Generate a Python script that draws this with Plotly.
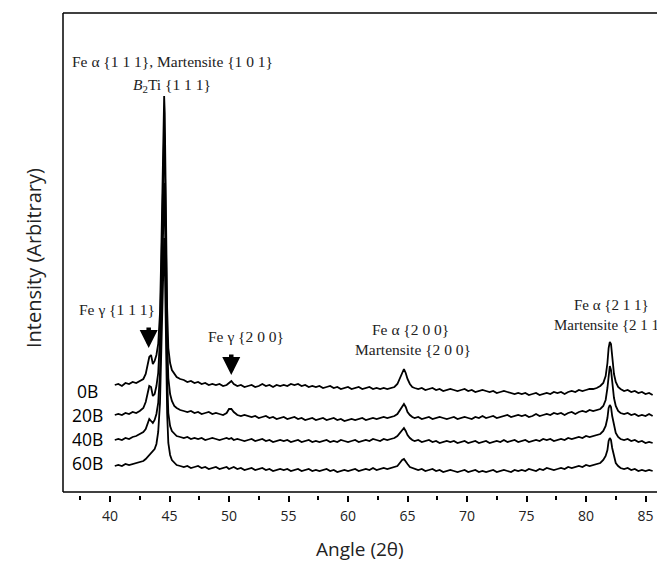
import plotly.graph_objects as go

# 2-theta sampling positions (degrees)
angle = [
    40.4, 40.7, 41.0, 41.3, 41.6, 41.9, 42.2, 42.5, 42.8, 43.0,
    43.15, 43.3, 43.45, 43.6, 43.75, 43.9, 44.05, 44.2, 44.3, 44.4,
    44.5, 44.55, 44.6, 44.7, 44.8, 44.9, 45.05, 45.2, 45.4, 45.6,
    45.9, 46.2, 46.5, 46.8, 47.1, 47.4, 47.7, 48.0, 48.3, 48.6,
    48.9, 49.2, 49.5, 49.8, 50.0, 50.2, 50.4, 50.7, 51.0, 51.3,
    51.6, 51.9, 52.2, 52.5, 52.8, 53.1, 53.4, 53.7, 54.0, 54.3,
    54.6, 54.9, 55.2, 55.5, 55.8, 56.1, 56.4, 56.7, 57.0, 57.3,
    57.6, 57.9, 58.2, 58.5, 58.8, 59.1, 59.4, 59.7, 60.0, 60.3,
    60.6, 60.9, 61.2, 61.5, 61.8, 62.1, 62.4, 62.7, 63.0, 63.3,
    63.6, 63.9, 64.15, 64.35, 64.55, 64.7, 64.85, 65.0, 65.2, 65.4,
    65.6, 65.9, 66.2, 66.5, 66.8, 67.1, 67.4, 67.7, 68.0, 68.3,
    68.6, 68.9, 69.2, 69.5, 69.8, 70.1, 70.4, 70.7, 71.0, 71.3,
    71.6, 71.9, 72.2, 72.5, 72.8, 73.1, 73.4, 73.7, 74.0, 74.3,
    74.6, 74.9, 75.2, 75.5, 75.8, 76.1, 76.4, 76.7, 77.0, 77.3,
    77.6, 77.9, 78.2, 78.5, 78.8, 79.1, 79.4, 79.7, 80.0, 80.3,
    80.6, 80.9, 81.2, 81.45, 81.65, 81.8, 81.9, 82.0, 82.1, 82.2,
    82.35, 82.5, 82.7, 82.9, 83.2, 83.5, 83.8, 84.1, 84.4, 84.7,
    85.0, 85.3, 85.6,
]

# Stacked intensities (arbitrary units)
int_0B = [
    107, 108, 106, 109, 108, 110, 109, 111, 113, 118,
    126, 135, 137, 128, 131, 137, 148, 179, 234, 314,
    384, 396, 379, 269, 184, 144, 129, 122, 118, 115,
    113, 112, 110, 111, 109, 110, 108, 109, 107, 108,
    107, 108, 106, 107, 109, 111, 108, 106, 107, 105,
    106, 107, 105, 106, 108, 106, 107, 105, 107, 106,
    107, 106, 108, 107, 108, 106, 107, 105, 106, 105,
    106, 104, 105, 106, 104, 105, 103, 104, 105, 103,
    104, 105, 103, 104, 105, 103, 104, 103, 104, 103,
    104, 105, 108, 114, 120, 123, 119, 113, 108, 105,
    104, 103, 104, 102, 103, 104, 102, 103, 101, 102,
    103, 102, 101, 102, 103, 101, 102, 100, 101, 102,
    101, 100, 101, 99, 100, 101, 100, 99, 98, 99,
    98, 99, 97, 98, 99, 97, 98, 99, 98, 100,
    99, 100, 98, 100, 101, 100, 102, 101, 102, 103,
    103, 104, 106, 109, 116, 129, 144, 150, 148, 134,
    118, 110, 105, 103, 101, 102, 100, 101, 99, 100,
    98, 99, 97,
]

int_20B = [
    77, 78, 77, 79, 78, 80, 79, 81, 84, 90,
    98, 106, 105, 96, 98, 106, 119, 154, 214, 289,
    354, 362, 344, 234, 154, 114, 98, 91, 86, 84,
    82, 81, 80, 81, 79, 80, 78, 79, 80, 78,
    79, 78, 77, 79, 83, 83, 80, 77, 76, 77,
    76, 75, 76, 74, 75, 76, 74, 75, 73, 74,
    75, 73, 74, 75, 73, 74, 72, 73, 74, 72,
    73, 74, 72, 73, 74, 72, 73, 71, 72, 73,
    72, 73, 74, 72, 73, 74, 73, 74, 75, 74,
    75, 76, 78, 82, 86, 88, 85, 80, 77, 75,
    74, 75, 73, 74, 75, 73, 74, 75, 74, 73,
    74, 75, 73, 74, 75, 74, 73, 75, 74, 76,
    74, 75, 76, 74, 75, 76, 77, 75, 76, 77,
    76, 77, 75, 76, 78, 76, 77, 78, 77, 79,
    78, 79, 77, 79, 80, 78, 80, 81, 80, 82,
    81, 82, 83, 86, 92, 104, 119, 126, 122, 108,
    94, 86, 81, 79, 78, 79, 77, 78, 76, 77,
    76, 78, 76,
]

int_40B = [
    52, 53, 52, 54, 53, 55, 56, 58, 60, 63,
    68, 73, 71, 69, 72, 78, 89, 119, 169, 239,
    299, 309, 289, 194, 114, 79, 66, 61, 58, 56,
    55, 54, 55, 53, 54, 53, 54, 52, 53, 54,
    53, 52, 53, 54, 53, 54, 52, 53, 52, 51,
    52, 53, 51, 52, 53, 51, 52, 50, 51, 52,
    51, 52, 50, 51, 52, 50, 51, 52, 50, 51,
    50, 51, 52, 50, 51, 50, 52, 51, 50, 51,
    52, 50, 51, 52, 51, 53, 52, 51, 53, 52,
    53, 54, 56, 59, 62, 64, 61, 57, 54, 52,
    51, 52, 50, 51, 52, 50, 51, 49, 50, 51,
    50, 51, 49, 50, 51, 49, 50, 51, 49, 50,
    51, 49, 50, 51, 50, 52, 50, 51, 52, 50,
    51, 52, 50, 51, 52, 51, 53, 52, 53, 51,
    52, 53, 52, 54, 53, 54, 55, 54, 56, 55,
    56, 57, 58, 61, 66, 74, 84, 87, 85, 76,
    66, 59, 55, 53, 52, 53, 51, 52, 50, 51,
    49, 50, 49,
]

int_60B = [
    26, 27, 26, 28, 27, 28, 29, 30, 31, 33,
    35, 37, 38, 40, 43, 48, 60, 89, 139, 199,
    244, 254, 234, 154, 79, 49, 37, 32, 29, 27,
    26, 25, 26, 24, 25, 26, 24, 25, 23, 24,
    25, 23, 24, 25, 23, 24, 25, 23, 24, 22,
    23, 24, 22, 23, 24, 22, 23, 21, 22, 23,
    22, 23, 21, 22, 23, 21, 22, 23, 21, 22,
    21, 22, 23, 21, 22, 20, 21, 22, 21, 22,
    23, 21, 22, 23, 22, 24, 22, 23, 24, 23,
    24, 25, 26, 29, 32, 33, 31, 28, 25, 24,
    23, 22, 23, 21, 22, 23, 21, 22, 20, 21,
    22, 21, 20, 21, 22, 20, 21, 22, 20, 21,
    20, 21, 22, 20, 21, 22, 21, 20, 22, 21,
    22, 21, 23, 22, 21, 23, 22, 24, 23, 22,
    23, 24, 23, 25, 24, 25, 26, 25, 27, 26,
    27, 28, 29, 32, 36, 42, 51, 54, 52, 44,
    35, 29, 26, 24, 23, 24, 22, 23, 21, 22,
    21, 22, 21,
]

samples = ["0B", "20B", "40B", "60B"]
series = [int_0B, int_20B, int_40B, int_60B]

for name, s in zip(samples, series):
    if len(s) != len(angle):
        raise ValueError(f"{name}: {len(s)} vs {len(angle)}")

SERIF = "Liberation Serif"
SANS = "Open Sans"
TXT = "#222222"

fig = go.Figure()
for name, s in zip(samples, series):
    fig.add_trace(go.Scatter(x=angle, y=s, mode="lines", name=name,
                             line=dict(color="black", width=1.8),
                             hoverinfo="skip", showlegend=False))

ann = []
# sample labels
for name, yv in zip(samples, [101, 77, 53, 29]):
    ann.append(dict(x=38.15, y=yv, xref="x", yref="y", text=name, showarrow=False,
                    font=dict(family=SANS, size=17.5, color="black"), borderpad=0,
                    xanchor="center", yanchor="middle"))

def lab(x, y, t, size=15.5):
    ann.append(dict(x=x, y=y, xref="x", yref="y", text=t, showarrow=False,
                    font=dict(family=SERIF, size=size, color=TXT), borderpad=0,
                    xanchor="center", yanchor="middle"))

lab(45.25, 431, "Fe α {1 1 1}, Martensite {1 0 1}")
lab(45.25, 407, "<i>B</i><sub>2</sub>Ti {1 1 1}")
lab(40.55, 182.3, "Fe γ {1 1 1}")
lab(51.39, 156, "Fe γ {2 0 0}")
lab(65.29, 162.3, "Fe α {2 0 0}")
lab(65.46, 142.3, "Martensite {2 0 0}")
lab(82.15, 187.5, "Fe α {2 1 1}", 15)
lab(82.05, 167.5, "Martensite {2 1 1}", 15)

# arrows
for ax_, ay_ in [(43.25, 144), (50.19, 117)]:
    ann.append(dict(x=ax_, y=ay_, xref="x", yref="y", text="", showarrow=True,
                    ax=0, ay=-22, arrowhead=2, arrowsize=0.8, arrowwidth=4.5,
                    arrowcolor="black", standoff=0))

# axis titles
ann.append(dict(x=(352 - 55) / 610, y=(487 - 541) / 482, xref="paper", yref="paper",
                text="Angle (2θ)", showarrow=False, borderpad=0,
                font=dict(family=SANS, size=19, color=TXT),
                xanchor="center", yanchor="middle"))
ann.append(dict(x=(25 - 55) / 610, y=(487 - 250) / 482, xref="paper", yref="paper",
                text="Intensity (Arbitrary)", showarrow=False, textangle=-90, borderpad=0,
                font=dict(family=SANS, size=20, color=TXT),
                xanchor="center", yanchor="middle"))

frame = dict(color="black", width=1.5)
shapes = [
    dict(type="line", xref="x domain", yref="y domain", x0=0, x1=0, y0=0, y1=1, line=frame),
    dict(type="line", xref="x domain", yref="y domain", x0=0, x1=1, y0=1, y1=1, line=frame),
    dict(type="line", xref="x domain", yref="y domain", x0=0, x1=1, y0=0, y1=0, line=frame),
]

fig.update_layout(
    width=665, height=562,
    margin=dict(l=55, r=0, t=5, b=75),
    paper_bgcolor="white", plot_bgcolor="white",
    showlegend=False,
    annotations=ann, shapes=shapes,
    xaxis=dict(range=[36.05, 87.31], anchor="free", position=0,
               showline=False, showgrid=False, zeroline=False,
               ticks="outside", ticklen=6, tickwidth=1.5, tickcolor="black",
               tick0=40, dtick=5, ticklabelstandoff=2,
               tickfont=dict(family=SANS, size=14, color=TXT),
               minor=dict(dtick=2.5, tick0=40, ticks="outside", ticklen=4,
                          tickwidth=1.5, tickcolor="black", showgrid=False)),
    yaxis=dict(range=[0, 479], domain=[3 / 482, 1], showticklabels=False,
               showgrid=False, zeroline=False, showline=False, ticks=""),
)

fig.write_html("out.html")
